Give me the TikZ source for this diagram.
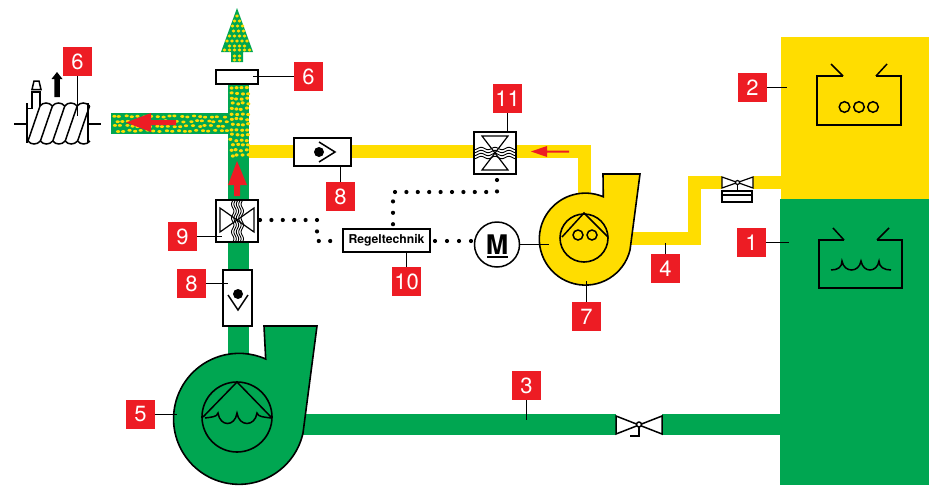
\documentclass[tikz,border=0pt]{standalone}
\usepackage{fontspec}
\setmainfont{TeX Gyre Heros}
\definecolor{gasgreen}{RGB}{0,166,81}
\definecolor{gasyellow}{RGB}{255,221,0}
\definecolor{tagred}{RGB}{237,28,36}
\tikzset{
  tag/.style={fill=tagred,text=white,inner sep=0pt,minimum size=29pt,font=\fontsize{22}{22}\selectfont},
  lead/.style={line width=1.2pt,black},
  dev/.style={draw=black,fill=white,line width=1.5pt,inner sep=0pt},
  sym/.style={draw=black,line width=1.5pt},
  sig/.style={line width=4.2pt,line cap=round,dash pattern=on 0pt off 11.4pt},
  pipeG/.style={draw=gasgreen,line width=21pt},
  pipeY/.style={draw=gasyellow,line width=13pt},
  speck/.style={fill=gasyellow},
  redarrow/.style={fill=tagred}
}
\begin{document}
\begin{tikzpicture}[x=1pt,y=1pt,yscale=-1,xscale=1]
\useasboundingbox (0,0) rectangle (929,485);

%Shape: Storage blocks
\fill[gasyellow] (781,37) rectangle (929,199);
\fill[gasgreen] (780,199) rectangle (929,485);

%Straight Lines: pipes
\draw[pipeG] (238,85) -- (238,358);
\draw[pipeG] (111,123.5) -- (228,123.5);
\draw[pipeG] (300,424.5) -- (616,424.5);
\draw[pipeG] (662,424.5) -- (780,424.5);
\draw[pipeY] (249,151.5) -- (584.5,151.5) -- (584.5,200);
\draw[pipeY] (630,238.5) -- (694.5,238.5) -- (694.5,182.5) -- (722,182.5);
\draw[pipeY] (753,182.5) -- (782,182.5);

%Shape: Outlet arrow
\fill[gasgreen] (237,8) -- (253,52) -- (243,52) -- (243,62) -- (231,62) -- (231,52) -- (221,52) -- cycle;

%Shape: Yellow specks
\pgfmathsetseed{11}
\foreach \row in {0,...,13}
  \foreach \col in {0,...,3}{
    \pgfmathsetmacro\px{231+\col*5.2+mod(\row,2)*1.2+rand*0.9}
    \pgfmathsetmacro\py{88+\row*5.2+rand*0.9}
    \fill[speck] (\px,\py) ellipse (2 and 1.6);
  }
\foreach \col in {0,...,18}
  \foreach \row in {0,...,3}{
    \pgfmathsetmacro\px{114+\col*6.1+mod(\row,2)*3+rand*1.3}
    \pgfmathsetmacro\py{116.5+\row*4.8+rand*0.7}
    \fill[speck] (\px,\py) ellipse (2.1 and 1.4);
  }
\foreach \py/\xs/\nn in {16/237/0, 21/234.5/1, 26/232.5/2, 31/233.5/2, 36/229.5/3, 41/227/4, 46/229.5/3, 50/224.5/5, 56/234.5/1, 60/234.5/1}
  \foreach \col in {0,...,\nn}
    \fill[speck] (\xs+\col*5,\py) ellipse (1.9 and 1.7);

%Shape: Red flow arrows
\fill[redarrow] (126,122.5) -- (151,113) -- (151,120) -- (176,120) -- (176,125) -- (151,125) -- (151,132) -- cycle;
\fill[redarrow] (237,161) -- (247,185) -- (240,185) -- (240,196) -- (234,196) -- (234,185) -- (228,185) -- cycle;
\fill[redarrow] (531,151.5) -- (547,146) -- (547,150.5) -- (569,150.5) -- (569,152.5) -- (547,152.5) -- (547,157) -- cycle;

%Shape: Fan 5
\draw[fill=gasgreen,line width=1.6pt] (264,326) -- (317,326) -- (303,433) arc[start angle=12.5,end angle=294,radius=65.5] -- cycle;
\draw[line width=1.6pt] (237,417) circle (35);
\draw[sym] (203,417) -- (237,382) -- (271,417);
\draw[sym] (205,418) .. controls (212,417) and (217,417) .. (218,413) .. controls (220,427) and (235,427) .. (237,413) .. controls (239,427) and (255,427) .. (257,413) .. controls (258,417) and (264,417) .. (271,418);

%Shape: Fan 7
\draw[fill=gasyellow,line width=1.6pt] (603,174) -- (640,174) -- (630,250) arc[start angle=13.7,end angle=293,radius=46] -- cycle;
\draw[line width=1.6pt] (584,238) circle (24);
\draw[sym] (562,237) -- (584,213) -- (608,237);
\draw[sym] (578,235) circle (5) (592,235) circle (5);

%Shape: Tank 2
\draw[sym] (843,76) -- (817,76) -- (817,125) -- (901,125) -- (901,76) -- (876,76);
\draw[sym] (843,76) -- (831,64) (876,76) -- (887,64);
\draw[sym] (844.5,107) circle (5.3) (859,107) circle (5.3) (873,107) circle (5.3);

%Shape: Tank 1
\draw[sym] (844,240) -- (819,240) -- (819,288) -- (902,288) -- (902,240) -- (877,240);
\draw[sym] (844,240) -- (833,228) (877,240) -- (889,228);
\draw[sym] (831,270) .. controls (838,270) and (842,267) .. (842,261) .. controls (844,273) and (859,273) .. (861,261) .. controls (863,273) and (877,273) .. (879,261) .. controls (879,267) and (884,270) .. (891,270);

%Shape: Heat exchanger
\draw[sym] (27,103) -- (27,143) (88,103) -- (88,143);
\draw[sym] (14,124) -- (27,124) (88,124) -- (101,124);
\draw[sym] (32,108) -- (32,92) -- (40,92) -- (40,106);
\draw[sym] (32,89.5) -- (34,81) -- (39,81) -- (41,89.5) -- cycle;
\draw[sym] (27,108.5) -- (33,108.5);
\foreach \i in {0,...,4}{
  \pgfmathsetmacro\xb{28+12.4*\i}
  \pgfmathsetmacro\xt{\xb+12}
  \draw[sym] (\xb,141) -- (\xt,106);
  \draw[sym] (\xb,141) .. controls (\xb+3,145) and (\xb+9,145) .. (\xb+12.4,141);
}
\foreach \i in {0,...,3}{
  \pgfmathsetmacro\xt{40+12.4*\i}
  \draw[sym] (\xt,106) .. controls (\xt+3,102) and (\xt+9,102) .. (\xt+12.4,106);
}
\fill (57,72) -- (62.5,79) -- (59.8,79) -- (59.8,97) -- (54.4,97) -- (54.4,79) -- (51.5,79) -- cycle;

%Shape: Devices on the pipes
\node[dev,minimum width=42pt,minimum height=14pt] (filtertop) at (237,77) {};
\node[dev,minimum width=42pt,minimum height=42pt] (valvenine) at (237,221) {};
\node[dev,minimum width=42pt,minimum height=42pt] (valveeleven) at (495,153) {};
\node[dev,minimum width=57pt,minimum height=28pt] (checktop) at (322.5,152) {};
\node[dev,minimum width=29pt,minimum height=56pt] (checklow) at (237.5,298) {};
\node[dev,minimum width=87pt,minimum height=23pt,font=\fontsize{12.2}{13}\selectfont\bfseries] (regel) at (386.5,240.5) {Regeltechnik};
\node[dev,circle,minimum size=45pt,font=\fontsize{27}{27}\selectfont\bfseries] (motor) at (497,244.5) {M};
\draw[line width=1.9pt] (487,257) -- (508,257);

%Shape: Valve insides
\foreach \d in {-4.5,-1.5,1.5,4.5}
  \draw[line width=.9pt] plot[domain=474:516,samples=43,smooth] (\x,{153+\d+1.2*sin(26*\x)});
\foreach \d in {-4.8,-2.4,0,2.4,4.8}
  \draw[line width=.9pt] plot[domain=200:242,samples=43,smooth] ({237.5+\d+1.2*sin(26*\x)},\x);
\draw[line width=1.2pt] (220,208) -- (220,232) -- (254,208) -- (254,232) -- cycle;
\draw[line width=1.2pt] (482,136) -- (508,136) -- (482,170) -- (508,170) -- cycle;

%Shape: Check valve insides
\fill (319,152) circle (5);
\draw[sym] (319,142) -- (335,152) -- (319,162);
\fill (238,294) circle (5);
\draw[sym] (228,295) -- (238,310) -- (248,295);

%Shape: Gas valves
\draw[sym,fill=white] (616,416) -- (616,434) -- (662,416) -- (662,434) -- cycle;
\draw[sym] (639,427) -- (639,436) -- (630,436);
\draw[sym,fill=white] (639,424.5) circle (2.5);
\draw[line width=1.2pt,fill=white] (722,177) -- (722,188) -- (753,177) -- (753,188) -- cycle;
\draw[line width=1.2pt] (737.5,185) -- (737.5,191);
\draw[line width=1.2pt,fill=white] (737.5,182.5) circle (2);
\draw[line width=1.2pt] (722,191) rectangle (752,202) (722,195) -- (752,195);

%Straight Lines: control signals
\coordinate (sigv) at (497,180);
\coordinate (sigc) at (497,192);
\coordinate (sigd) at (393,192);
\coordinate (sige) at (393,225);
\draw[sig] (sigv) -- (sigc) -- (sigd) -- (sige);
\coordinate (sigf) at (260,220);
\coordinate (sigg) at (317,220);
\coordinate (sigh) at (317,241);
\coordinate (sigi) at (340,241);
\draw[sig] (sigf) -- (sigg) -- (sigh) -- (sigi);
\coordinate (sigj) at (435,241);
\coordinate (sigk) at (471,241);
\draw[sig,dash pattern=on 0pt off 12pt] (sigj) -- (sigk);

%Straight Lines: motor to fan
\coordinate (fanseven) at (549,244.5);
\draw[sym] (motor) -- (fanseven);

% Text Node
\node[tag] (tagone) at (751.5,242.5) {1};
\node[tag] (tagtwo) at (752.5,87.5) {2};
\node[tag] (tagthree) at (526.5,385.5) {3};
\node[tag] (tagfour) at (665.5,268.5) {4};
\node[tag] (tagfive) at (140.5,414.5) {5};
\node[tag] (tagsixa) at (77.5,61.5) {6};
\node[tag] (tagsixb) at (308.5,76.5) {6};
\node[tag] (tagseven) at (586.5,316.5) {7};
\node[tag] (tageighta) at (340.5,196.5) {8};
\node[tag] (tageightb) at (191.5,283.5) {8};
\node[tag] (tagnine) at (182.5,236.5) {9};
\node[tag] (tagten) at (406.5,281.5) {10};
\node[tag] (tageleven) at (507.5,98.5) {11};

%Straight Lines: leaders
\coordinate (endone) at (789,242.5);
\coordinate (endtwo) at (787,87.5);
\coordinate (endthree) at (526.5,420);
\coordinate (endfour) at (665.5,243);
\coordinate (endfive) at (177,414.5);
\coordinate (endsixa) at (77.5,116);
\coordinate (endsixb) at (253,76.5);
\coordinate (endseven) at (586.5,281);
\coordinate (endeighta) at (340.5,166);
\coordinate (endeightb) at (228,283.5);
\coordinate (endnine) at (222,236.5);
\coordinate (endten) at (406.5,252);
\coordinate (endeleven) at (507.5,132);
\foreach \a/\b in {tagone/endone,tagtwo/endtwo,tagthree/endthree,tagfour/endfour,tagfive/endfive,tagsixa/endsixa,tagsixb/endsixb,tagseven/endseven,tageighta/endeighta,tageightb/endeightb,tagnine/endnine,tagten/endten,tageleven/endeleven}
  \draw[lead] (\a) -- (\b);
\end{tikzpicture}
\end{document}
